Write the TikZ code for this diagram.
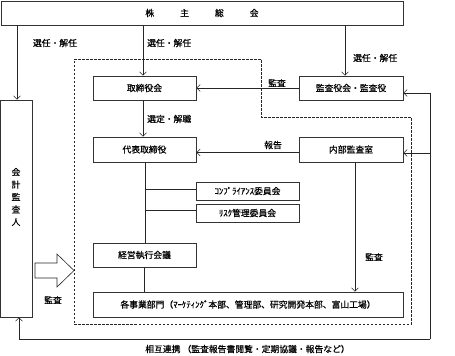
\documentclass[tikz,border=0pt]{standalone}
\usepackage{fontspec}
\setmainfont{Noto Sans CJK JP}[FakeBold=0.5]
\usetikzlibrary{arrows.meta,calc}
\begin{document}
\begin{tikzpicture}[x=1bp,y=-1bp,
  box/.style={draw=black!80,line width=0.6bp,inner sep=0pt,font=\fontsize{8.8bp}{10bp}\selectfont},
  lbl/.style={inner sep=0pt,font=\fontsize{8.8bp}{10bp}\selectfont},
  arr/.style={line width=0.6bp,draw=black!85,-{Straight Barb[length=3.5bp,width=7bp]}},
  ln/.style={line width=0.6bp,draw=black!85}]
\useasboundingbox (0,0) rectangle (455,355);
% dashed region
\draw[line width=0.6bp,black!85,dash pattern=on 2.5bp off 1.5bp] (74,59) -- (261,59) -- (261,117) -- (411,117) -- (411,324) -- (74,324) -- cycle;
% boxes
\node[box,minimum width=402bp,minimum height=24bp] (soukai) at (202,13) {株\hspace{26bp}主\hspace{26bp}総\hspace{26bp}会};
\node[box,minimum width=32bp,minimum height=217bp] (kaikei) at (16,208.5) {};
\node[lbl,align=center,font=\fontsize{8.8bp}{12.5bp}\selectfont] (kaikeitxt) at (16,197) {会\\計\\監\\査\\人};
\node[box,minimum width=103bp,minimum height=24bp] (tori) at (144.5,88) {取締役会};
\node[box,minimum width=104bp,minimum height=24bp] (kansa) at (351,88) {監査役会・監査役};
\node[box,minimum width=103bp,minimum height=25bp] (daihyo) at (144.5,149.5) {代表取締役};
\node[box,minimum width=104bp,minimum height=25bp] (naibu) at (351,149.5) {内部監査室};
\node[box,minimum width=103bp,minimum height=18bp] (comp) at (247.5,191) {ｺﾝﾌﾟﾗｲｱﾝｽ委員会};
\node[box,minimum width=103bp,minimum height=18bp] (risk) at (247.5,213) {ﾘｽｸ管理委員会};
\node[box,minimum width=103bp,minimum height=24bp] (keiei) at (144.5,255) {経営執行会議};
\node[box,minimum width=310bp,minimum height=25bp] (kaku) at (248,304.5) {各事業部門（ﾏｰｹﾃｨﾝｸﾞ本部、管理部、研究開発本部、富山工場）};
% arrows from soukai
\draw[arr] ($(kaikei.north |- soukai.south)+(1,0)$) -- ($(kaikei.north)+(1,0)$);
\draw[arr] ($(tori.north |- soukai.south)+(-1.5,0)$) -- ($(tori.north)+(-1.5,0)$);
\draw[arr] ($(kansa.north |- soukai.south)+(-6,0)$) -- ($(kansa.north)+(-6,0)$);
\node[lbl] (l1) at (55,43) {選任・解任};
\node[lbl,anchor=west] (l2) at (147,43) {選任・解任};
\node[lbl,anchor=west] (l3) at (353,58) {選任・解任};
% kansa -> tori
\draw[arr] (kansa.west) -- (tori.east);
\node[lbl,anchor=west] (l4) at (268,83) {監査};
% tori -> daihyo
\draw[arr] ($(tori.south)+(-1.5,0)$) -- ($(daihyo.north)+(-1.5,0)$);
\node[lbl,anchor=west] (l5) at (147,119) {選定・解職};
% naibu -> daihyo
\draw[arr] ($(naibu.west)+(0,3)$) -- ($(daihyo.east)+(0,3)$);
\node[lbl] (l6) at (273,145) {報告};
% trunk
\draw[ln] ($(daihyo.south)+(0.5,0)$) -- ($(keiei.north)+(0.5,0)$);
\draw[ln] ($(keiei.south)+(-0.5,0)$) -- ($(kaku.north -| keiei.south)+(-0.5,0)$);
\draw[ln] ($(comp.west)+(-51,-2)$) -- ($(comp.west)+(0,-2)$);
\draw[ln] ($(risk.west)+(-51,-3)$) -- ($(risk.west)+(0,-3)$);
% naibu -> kaku
\draw[arr] ($(naibu.south)+(4,0)$) -- ($(kaku.north -| naibu.south)+(4,0)$);
\node[lbl,anchor=west] (l7) at (365,257) {監査};
% loop
\coordinate (lt) at (430,93);
\coordinate (lb) at (430,339);
\coordinate (ll) at (19,339);
\draw[arr] (lb) -- (lt) -- (lt -| kansa.east);
\draw[arr] (lt |- naibu.east) ++(0,3.5) -- ($(naibu.east)+(0,3.5)$);
\draw[ln] (lb) -- (ll);
\draw[arr] (ll) -- (ll |- kaikei.south);
\node[lbl] (l8) at (247.5,349) {相互連携 （監査報告書閲覧・定期協議・報告など）};
% big hollow arrow
\draw[line width=0.6bp,black!85,fill=white] (35,263) -- (57,263) -- (57,254) -- (74,270.5) -- (57,287) -- (57,278) -- (35,278) -- cycle;
\node[lbl] (l9) at (53,300) {監査};
\end{tikzpicture}
\end{document}
